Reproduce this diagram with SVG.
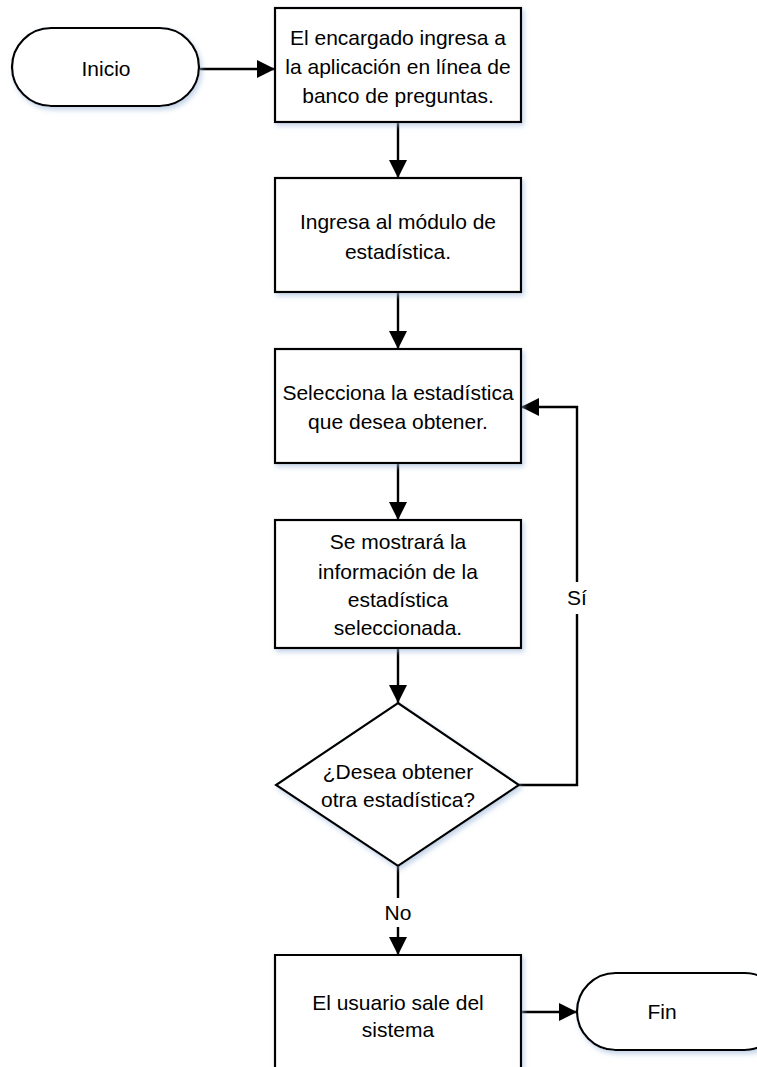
<svg xmlns="http://www.w3.org/2000/svg" width="757" height="1067" viewBox="0 0 757 1067">
<style>
.shape{fill:#fff;stroke:#000;stroke-width:2.2;filter:url(#sh)}
.t{font-family:"Liberation Sans",Arial,sans-serif;font-size:21px;fill:#000;text-anchor:middle}
.c{fill:none;stroke:#000;stroke-width:2.4}
</style>
<defs>
<filter id="sh" x="-10%" y="-10%" width="130%" height="130%">
<feDropShadow dx="2" dy="3" stdDeviation="2.5" flood-color="#9db7d9" flood-opacity="0.6"/>
</filter>
<marker id="ah" markerWidth="18" markerHeight="18" viewBox="0 0 18 18" refX="18" refY="9" orient="auto" markerUnits="userSpaceOnUse">
<path d="M0,0 L18,9 L0,18 Z" fill="#000"/>
</marker>
</defs>
<g id="connectors">
<path class="c" d="M199,69 H275" marker-end="url(#ah)"/>
<path class="c" d="M398,122 V178" marker-end="url(#ah)"/>
<path class="c" d="M398,292 V349" marker-end="url(#ah)"/>
<path class="c" d="M398,463 V520" marker-end="url(#ah)"/>
<path class="c" d="M398,648 V703" marker-end="url(#ah)"/>
<path class="c" d="M398,866 V898"/>
<path class="c" d="M398,927 V955" marker-end="url(#ah)"/>
<path class="c" d="M519,785 H577 V614"/>
<path class="c" d="M577,582 V407 H521" marker-end="url(#ah)"/>
<path class="c" d="M521,1012 H577" marker-end="url(#ah)"/>
<text class="t" x="577" y="605">Sí</text>
<text class="t" x="398" y="920">No</text>
</g>
<g id="inicio">
<rect class="shape" x="12" y="28" width="187" height="78" rx="39"/>
<text class="t" x="106" y="76">Inicio</text>
</g>
<g id="box1">
<rect class="shape" x="275" y="8" width="246" height="114"/>
<text class="t" x="398" y="45">El encargado ingresa a</text>
<text class="t" x="398" y="74">la aplicación en línea de</text>
<text class="t" x="398" y="103">banco de preguntas.</text>
</g>
<g id="box2">
<rect class="shape" x="275" y="178" width="246" height="114"/>
<text class="t" x="398" y="229">Ingresa al módulo de</text>
<text class="t" x="398" y="259">estadística.</text>
</g>
<g id="box3">
<rect class="shape" x="275" y="349" width="246" height="114"/>
<text class="t" x="398" y="400">Selecciona la estadística</text>
<text class="t" x="398" y="429">que desea obtener.</text>
</g>
<g id="box4">
<rect class="shape" x="275" y="520" width="246" height="128"/>
<text class="t" x="398" y="549">Se mostrará la</text>
<text class="t" x="398" y="579">información de la</text>
<text class="t" x="398" y="607">estadística</text>
<text class="t" x="398" y="635">seleccionada.</text>
</g>
<g id="decision">
<path class="shape" d="M398,703 L519,785 L398,866 L276,785 Z"/>
<text class="t" x="398" y="779">¿Desea obtener</text>
<text class="t" x="398" y="807">otra estadística?</text>
</g>
<g id="box5">
<path class="shape" d="M275,1075 V955 H521 V1075"/>
<text class="t" x="398" y="1010">El usuario sale del</text>
<text class="t" x="398" y="1037">sistema</text>
</g>
<g id="fin">
<rect class="shape" x="577" y="973" width="206" height="77" rx="38.5"/>
<text class="t" x="662" y="1019">Fin</text>
</g>
</svg>
